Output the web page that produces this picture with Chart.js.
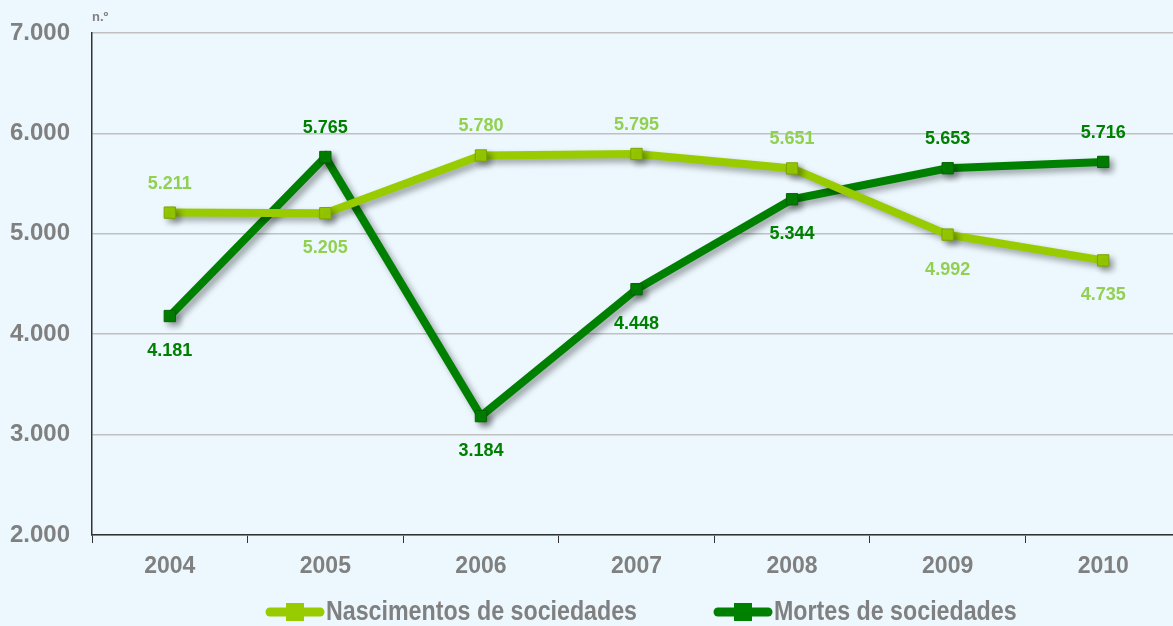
<!DOCTYPE html>
<html lang="pt">
<head>
<meta charset="UTF-8">
<title>Sociedades</title>
<script src="https://cdn.jsdelivr.net/npm/chart.js"></script>
<style>
    html, body { margin: 0; padding: 0; overflow: hidden; background: #ecf8fe; }
    #grafico { position: absolute; left: 0; top: 0; }
</style>
</head>
<body>
<canvas id="grafico" width="1190" height="626" style="width:1190px;height:626px"></canvas>
<script>
    var anos = ['2004', '2005', '2006', '2007', '2008', '2009', '2010'];
    var nascimentos = [5211, 5205, 5780, 5795, 5651, 4992, 4735];
    var mortes = [4181, 5765, 3184, 4448, 5344, 5653, 5716];
    // posição da etiqueta: 1 = acima, -1 = abaixo
    var posNascimentos = [1, -1, 1, 1, 1, -1, -1];
    var posMortes = [-1, 1, -1, -1, -1, 1, 1];

    var verdeClaro = '#99cc00';
    var verdeEscuro = '#008000';
    var cinza = '#808080';

    function fmt(v) {
        return v.toLocaleString('de-DE');
    }

    var sombra = {
        id: 'sombra',
        beforeDatasetDraw: function (chart) {
            var ctx = chart.ctx;
            ctx.save();
            ctx.shadowColor = 'rgba(0,0,0,0.35)';
            ctx.shadowBlur = 6;
            ctx.shadowOffsetX = 4;
            ctx.shadowOffsetY = 4;
        },
        afterDatasetDraw: function (chart) {
            chart.ctx.restore();
        }
    };

    var etiquetas = {
        id: 'etiquetas',
        afterDatasetsDraw: function (chart) {
            var ctx = chart.ctx;
            ctx.save();
            ctx.font = 'bold 18px "Liberation Sans", Arial, sans-serif';
            ctx.textAlign = 'center';
            ctx.textBaseline = 'middle';
            chart.data.datasets.forEach(function (ds, i) {
                var meta = chart.getDatasetMeta(i);
                meta.data.forEach(function (pt, j) {
                    var up = ds.posicoes[j] > 0;
                    ctx.fillStyle = ds.corEtiqueta;
                    ctx.fillText(fmt(ds.data[j]), pt.x, pt.y + (up ? -29 : 35));
                });
            });
            // unidade
            ctx.font = 'bold 13px "Liberation Sans", Arial, sans-serif';
            ctx.fillStyle = cinza;
            ctx.textAlign = 'left';
            ctx.fillText('n.º', chart.chartArea.left, 17);
            ctx.restore();
        }
    };

    // legenda desenhada à mão (fonte estreita simulada)
    var legenda = {
        id: 'legenda',
        afterDraw: function (chart) {
            var ctx = chart.ctx;
            var y = 612;
            var itens = [
                { x: 266, ds: chart.data.datasets[0] },
                { x: 714, ds: chart.data.datasets[1] }
            ];
            ctx.save();
            itens.forEach(function (it) {
                var cor = it.ds.borderColor;
                ctx.strokeStyle = cor;
                ctx.lineWidth = 9;
                ctx.lineCap = 'round';
                ctx.beginPath();
                ctx.moveTo(it.x + 4, y);
                ctx.lineTo(it.x + 54, y);
                ctx.stroke();
                ctx.fillStyle = cor;
                ctx.fillRect(it.x + 20, y - 9, 18, 18);
                ctx.save();
                ctx.translate(it.x + 60, y);
                ctx.scale(0.86, 1);
                ctx.font = 'bold 27px "Liberation Sans", Arial, sans-serif';
                ctx.fillStyle = cinza;
                ctx.textAlign = 'left';
                ctx.textBaseline = 'middle';
                ctx.fillText(it.ds.label, 0, 1);
                ctx.restore();
            });
            ctx.restore();
        }
    };

    new Chart(document.getElementById('grafico'), {
        type: 'line',
        data: {
            labels: anos,
            datasets: [{
                label: 'Nascimentos de sociedades',
                data: nascimentos,
                posicoes: posNascimentos,
                corEtiqueta: '#92d050',
                borderColor: verdeClaro,
                backgroundColor: verdeClaro,
                borderWidth: 8,
                pointStyle: 'rect',
                pointRadius: 8,
                pointBorderWidth: 1,
                pointBorderColor: '#7aa300',
                pointBackgroundColor: verdeClaro,
                tension: 0,
                fill: false
            }, {
                label: 'Mortes de sociedades',
                data: mortes,
                posicoes: posMortes,
                corEtiqueta: verdeEscuro,
                borderColor: verdeEscuro,
                backgroundColor: verdeEscuro,
                borderWidth: 8,
                pointStyle: 'rect',
                pointRadius: 8,
                pointBorderWidth: 1,
                pointBorderColor: '#006400',
                pointBackgroundColor: verdeEscuro,
                tension: 0,
                fill: false
            }]
        },
        options: {
            responsive: false,
            animation: false,
            layout: { padding: { top: 33, right: 4, left: 0, bottom: 51 } },
            scales: {
                x: {
                    offset: true,
                    grid: { offset: true, drawOnChartArea: false, color: '#333', tickLength: 8 },
                    border: { color: '#333', width: 1.5 },
                    ticks: { color: cinza, font: { family: '"Liberation Sans", Arial', size: 23, weight: 'bold' }, padding: 10 },
                    afterFit: function (s) { s.height = 40; }
                },
                y: {
                    min: 2000,
                    max: 7000,
                    ticks: {
                        stepSize: 1000,
                        color: cinza,
                        padding: 22,
                        font: { family: '"Liberation Sans", Arial', size: 24, weight: 'bold', lineHeight: 1 },
                        callback: function (v) { return fmt(v); }
                    },
                    grid: { color: '#c0c0c0', lineWidth: 1.5, drawTicks: false },
                    border: { color: '#333', width: 1.5 },
                    afterFit: function (s) { s.width = 92; s.paddingTop = 0; s.paddingBottom = 0; }
                }
            },
            plugins: {
                tooltip: { enabled: false },
                legend: { display: false }
            }
        },
        plugins: [sombra, etiquetas, legenda]
    });
</script>
</body>
</html>
